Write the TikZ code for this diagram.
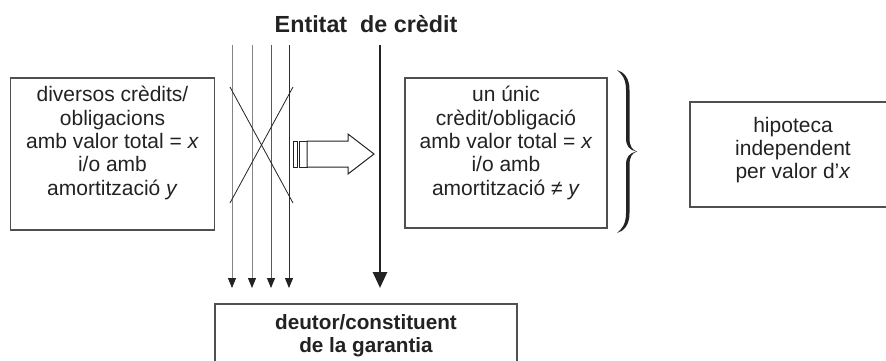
\documentclass[tikz,border=0pt]{standalone}
\usepackage{fontspec}
\setmainfont{Liberation Sans}
\usetikzlibrary{arrows.meta}
\definecolor{ink}{HTML}{222222}
\definecolor{boxline}{HTML}{505050}
\definecolor{thin}{HTML}{858585}
\begin{document}
\begin{tikzpicture}[x=1pt,y=-1pt,
  boxframe/.style={draw=boxline, line width=1.1pt},
  txt/.style={font=\fontsize{21}{23.3}\selectfont, align=center, inner sep=0pt, text=ink},
  boldtxt/.style={font=\fontsize{20.7}{23.3}\selectfont\bfseries, align=center, inner sep=0pt, text=ink},
  titletxt/.style={font=\fontsize{23.3}{26}\selectfont\bfseries, inner sep=0pt, text=ink},
  thinline/.style={draw=thin, line width=0.9pt, -{Triangle[length=10pt,width=8pt,color=ink]}},
  thickline/.style={draw=ink, line width=2.8pt, -{Triangle[length=16pt,width=14pt]}},
  crossline/.style={draw=ink, line width=0.8pt},
  blockarrow/.style={draw=ink, line width=1pt, fill=white}]
\useasboundingbox (0,0) rectangle (886,361);
\clip (0,0) rectangle (886,361);

% title
\node[titletxt] (title) at (366,24) {Entitat\ \ de crèdit};

% left box
\node[boxframe, minimum width=204pt, minimum height=152pt, inner sep=0pt] (leftbox) at (112.5,154) {};
\node[txt] (lefttext) at (112.5,143) {diversos crèdits/\\obligacions\\amb valor total = \textit{x}\\i/o amb\\amortització \textit{y}};

% thin lines
\coordinate (t1) at (232,45); \coordinate (b1) at (232,288);
\coordinate (t2) at (252,45); \coordinate (b2) at (252,288);
\coordinate (t3) at (271,45); \coordinate (b3) at (271,288);
\coordinate (t4) at (289,45); \coordinate (b4) at (289,288);
\draw[thinline] (t1) -- (b1);
\draw[thinline] (t2) -- (b2);
\draw[thinline, draw=ink!75] (t3) -- (b3);
\draw[thinline, draw=ink!95] (t4) -- (b4);

% cross
\coordinate (xa) at (230,87); \coordinate (xb) at (293,203);
\coordinate (xc) at (293,87); \coordinate (xd) at (230,203);
\draw[crossline] (xa) -- (xb);
\draw[crossline] (xc) -- (xd);

% thick line
\coordinate (tt) at (380,45); \coordinate (tb) at (380,288);
\draw[thickline] (tt) -- (tb);

% block arrow
\draw[blockarrow] (293,141) rectangle (297.5,167);
\draw[blockarrow] (299.5,141) rectangle (307,167);
\draw[blockarrow] (307,141) -- (348,141) -- (348,134) -- (374,154) -- (348,174) -- (348,167) -- (307,167) -- cycle;

% middle box
\node[boxframe, minimum width=202pt, minimum height=150pt, inner sep=0pt] (midbox) at (506,153) {};
\node[txt] (midtext) at (506,143) {un únic\\crèdit/obligació\\amb valor total = \textit{x}\\i/o amb\\amortització ≠ \textit{y}};

% brace (glyph-like filled shape)
\fill[ink] (617,70) .. controls (624,72) and (629.5,78) .. (629.5,90) -- (629.5,138)
  .. controls (629.5,146) and (632,150) .. (637,151.5)
  .. controls (632,153) and (629.5,157) .. (629.5,165) -- (629.5,213)
  .. controls (629.5,225) and (624,231) .. (617,233)
  .. controls (622,229) and (626,224) .. (626,213) -- (626,165)
  .. controls (626,157) and (629,153) .. (637,151.5)
  .. controls (629,150) and (626,146) .. (626,138) -- (626,90)
  .. controls (626,79) and (622,74) .. (617,70) -- cycle;

% right box
\draw[boxframe] (690,102) rectangle (905,207);
\node[txt] (righttext) at (793,150) {hipoteca\\independent\\per valor d’\textit{x}};

% bottom box
\draw[boxframe] (215,304) rectangle (517,380);
\node[boldtxt] (bottomtext) at (366,336) {deutor/constituent\\de la garantia};
\end{tikzpicture}
\end{document}
